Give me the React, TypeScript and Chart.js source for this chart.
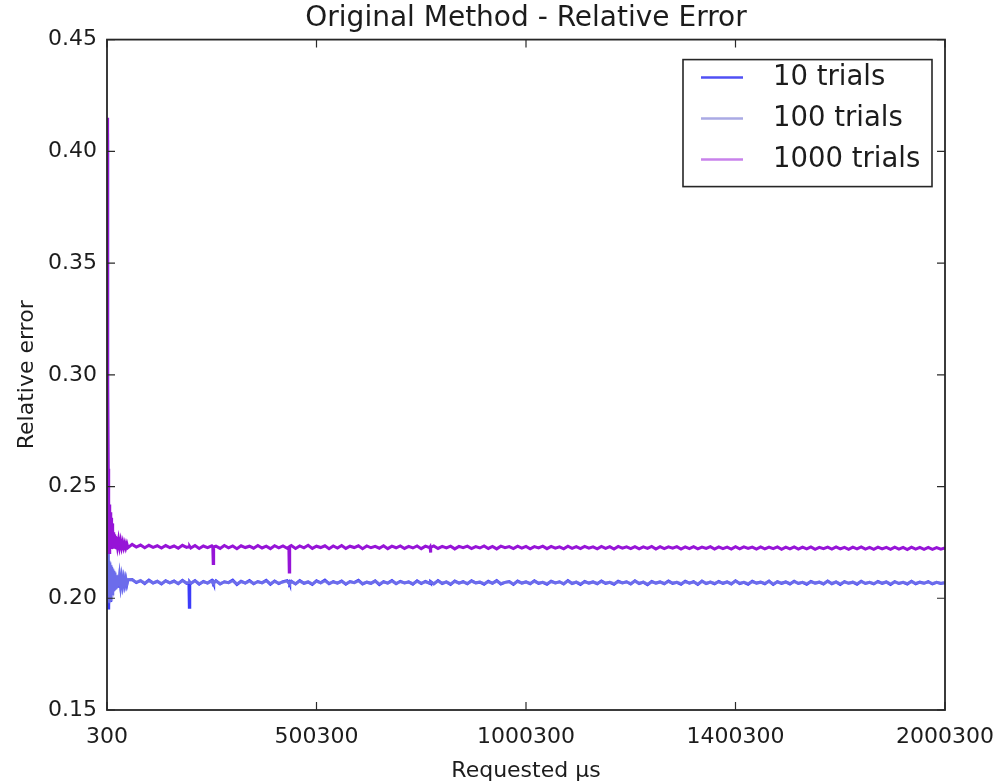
import React, { useEffect, useRef } from 'react';
import { Chart, registerables } from 'chart.js';

Chart.register(...registerables);

const CHART_TITLE = 'Original Method - Relative Error';
const X_TITLE = 'Requested μs';
const Y_TITLE = 'Relative error';
const SERIES_LABELS = ['10 trials', '100 trials', '1000 trials'];
const X_TICK_VALUES = [300, 500300, 1000300, 1500300, 2000300];
const X_TICK_LABELS = ['300', '500300', '1000300', '1400300', '2000300'];
const Y_TICKS = [0.15, 0.2, 0.25, 0.3, 0.35, 0.4, 0.45];

const SAMPLE_X = [
  300, 1300, 2300, 3300, 4300, 5300, 6300, 7300, 8300, 9300, 10300,
  11300, 12300, 13300, 14300, 15300, 16300, 17300, 18300, 19300, 20300,
  22800, 25300, 27800, 30300, 32800, 35300, 37800, 40300, 42800, 45300, 47800, 50300,
  60300, 70300, 80300, 90300, 100300, 110300, 120300, 130300, 140300, 150300,
  160300, 170300, 180300, 190300, 195800, 196800, 197800, 200300, 210300, 220300, 230300, 240300, 250300, 252800, 253800, 254800,
  260300, 270300, 280300, 290300, 300300, 310300, 320300, 330300, 340300, 350300,
  360300, 370300, 380300, 390300, 400300, 410300, 420300, 430300, 434300, 435300, 436300, 440300, 450300,
  460300, 470300, 480300, 490300, 500300, 510300, 520300, 530300, 540300, 550300,
  560300, 570300, 580300, 590300, 600300, 610300, 620300, 630300, 640300, 650300,
  660300, 670300, 680300, 690300, 700300, 710300, 720300, 730300, 740300, 750300,
  760300, 770300, 771300, 772300, 773300, 780300, 790300, 800300, 810300, 820300, 830300, 840300, 850300,
  860300, 870300, 880300, 890300, 900300, 910300, 920300, 930300, 940300, 950300,
  960300, 970300, 980300, 990300, 1000300, 1010300, 1020300, 1030300, 1040300, 1050300,
  1060300, 1070300, 1080300, 1090300, 1100300, 1110300, 1120300, 1130300, 1140300, 1150300,
  1160300, 1170300, 1180300, 1190300, 1200300, 1210300, 1220300, 1230300, 1240300, 1250300,
  1260300, 1270300, 1280300, 1290300, 1300300, 1310300, 1320300, 1330300, 1340300, 1350300,
  1360300, 1370300, 1380300, 1390300, 1400300, 1410300, 1420300, 1430300, 1440300, 1450300,
  1460300, 1470300, 1480300, 1490300, 1500300, 1510300, 1520300, 1530300, 1540300, 1550300,
  1560300, 1570300, 1580300, 1590300, 1600300, 1610300, 1620300, 1630300, 1640300, 1650300,
  1660300, 1670300, 1680300, 1690300, 1700300, 1710300, 1720300, 1730300, 1740300, 1750300,
  1760300, 1770300, 1780300, 1790300, 1800300, 1810300, 1820300, 1830300, 1840300, 1850300,
  1860300, 1870300, 1880300, 1890300, 1900300, 1910300, 1920300, 1930300, 1940300, 1950300,
  1960300, 1970300, 1980300, 1990300, 2000300,
];

const TRIALS_10 = [
  0.405, 0.318, 0.247, 0.2168, 0.1950, 0.2160, 0.2012, 0.2155, 0.1990, 0.2148, 0.2030,
  0.2140, 0.2020, 0.2130, 0.2035, 0.2122, 0.2040, 0.2115, 0.2038, 0.2110, 0.2045,
  0.2050, 0.2102, 0.2048, 0.2096, 0.2055, 0.2092, 0.2058, 0.2088, 0.2060, 0.2086, 0.2062, 0.2083,
  0.2084, 0.2070, 0.2079, 0.2066, 0.2081, 0.2068, 0.2076, 0.2064, 0.2078, 0.2069,
  0.2077, 0.2065, 0.2080, 0.2067, 0.2070, 0.1960, 0.2072, 0.2066, 0.2079, 0.2063, 0.2075, 0.2068, 0.2080, 0.2069, 0.2072, 0.2067,
  0.2078, 0.2064, 0.2074, 0.2070, 0.2081, 0.2062, 0.2076, 0.2068, 0.2079, 0.2065,
  0.2075, 0.2069, 0.2080, 0.2063, 0.2077, 0.2066, 0.2074, 0.2079, 0.2068, 0.2071, 0.2066, 0.2076, 0.2064,
  0.2079, 0.2067, 0.2073, 0.2062, 0.2078, 0.2069, 0.2081, 0.2065, 0.2074, 0.2068,
  0.2077, 0.2063, 0.2075, 0.2070, 0.2080, 0.2064, 0.2072, 0.2067, 0.2078, 0.2061,
  0.2074, 0.2068, 0.2079, 0.2065, 0.2076, 0.2069, 0.2073, 0.2063, 0.2078, 0.2066,
  0.2075, 0.2067, 0.2072, 0.2069, 0.2074, 0.2064, 0.2079, 0.2066, 0.2073, 0.2062, 0.2077, 0.2068, 0.2074,
  0.2065, 0.2078, 0.2069, 0.2072, 0.2063, 0.2076, 0.2067, 0.2079, 0.2064, 0.2071,
  0.2075, 0.2062, 0.2077, 0.2068, 0.2073, 0.2065, 0.2078, 0.2067, 0.2071, 0.2063,
  0.2076, 0.2069, 0.2074, 0.2064, 0.2079, 0.2066, 0.2072, 0.2062, 0.2075, 0.2068,
  0.2073, 0.2065, 0.2077, 0.2067, 0.2071, 0.2063, 0.2076, 0.2069, 0.2074, 0.2064,
  0.2078, 0.2066, 0.2072, 0.2061, 0.2075, 0.2068, 0.2073, 0.2065, 0.2077, 0.2067,
  0.2071, 0.2063, 0.2076, 0.2068, 0.2074, 0.2062, 0.2077, 0.2066, 0.2072, 0.2065,
  0.2075, 0.2067, 0.2073, 0.2064, 0.2078, 0.2066, 0.2071, 0.2063, 0.2076, 0.2068,
  0.2072, 0.2065, 0.2077, 0.2062, 0.2074, 0.2067, 0.2073, 0.2064, 0.2076, 0.2066,
  0.2071, 0.2063, 0.2075, 0.2068, 0.2072, 0.2064, 0.2077, 0.2065, 0.2073, 0.2062,
  0.2074, 0.2067, 0.2072, 0.2063, 0.2076, 0.2066, 0.2071, 0.2064, 0.2075, 0.2067,
  0.2073, 0.2062, 0.2074, 0.2066, 0.2071, 0.2064, 0.2076, 0.2065, 0.2072, 0.2067,
  0.2074, 0.2064, 0.2071, 0.2066, 0.2070,
];

const TRIALS_100 = [
  0.408, 0.305, 0.240, 0.2170, 0.1985, 0.2165, 0.1978, 0.2158, 0.2002, 0.2150, 0.1995,
  0.2142, 0.2015, 0.2135, 0.2022, 0.2128, 0.2030, 0.2120, 0.2036, 0.2114, 0.2042,
  0.2045, 0.2106, 0.2052, 0.2100, 0.2056, 0.2095, 0.2060, 0.2091, 0.2063, 0.2088, 0.2065, 0.2085,
  0.2083, 0.2072, 0.2080, 0.2068, 0.2078, 0.2070, 0.2076, 0.2067, 0.2077, 0.2070,
  0.2075, 0.2067, 0.2078, 0.2069, 0.2071, 0.2070, 0.2072, 0.2068, 0.2077, 0.2066, 0.2074, 0.2069, 0.2076, 0.2070, 0.2072, 0.2069,
  0.2076, 0.2066, 0.2073, 0.2070, 0.2077, 0.2065, 0.2075, 0.2069, 0.2076, 0.2067,
  0.2074, 0.2070, 0.2077, 0.2066, 0.2075, 0.2068, 0.2073, 0.2076, 0.2069, 0.2071, 0.2068, 0.2074, 0.2066,
  0.2076, 0.2068, 0.2073, 0.2065, 0.2076, 0.2069, 0.2077, 0.2067, 0.2073, 0.2069,
  0.2075, 0.2066, 0.2074, 0.2070, 0.2077, 0.2066, 0.2072, 0.2068, 0.2076, 0.2065,
  0.2073, 0.2069, 0.2076, 0.2067, 0.2074, 0.2070, 0.2072, 0.2066, 0.2075, 0.2068,
  0.2074, 0.2068, 0.2071, 0.2070, 0.2072, 0.2066, 0.2076, 0.2068, 0.2072, 0.2065, 0.2075, 0.2069, 0.2073,
  0.2067, 0.2076, 0.2070, 0.2072, 0.2066, 0.2074, 0.2068, 0.2076, 0.2066, 0.2071,
  0.2074, 0.2065, 0.2075, 0.2069, 0.2072, 0.2067, 0.2076, 0.2068, 0.2071, 0.2066,
  0.2075, 0.2069, 0.2073, 0.2066, 0.2076, 0.2067, 0.2072, 0.2065, 0.2074, 0.2069,
  0.2072, 0.2067, 0.2075, 0.2068, 0.2071, 0.2066, 0.2074, 0.2070, 0.2073, 0.2066,
  0.2076, 0.2067, 0.2072, 0.2064, 0.2074, 0.2069, 0.2072, 0.2067, 0.2075, 0.2068,
  0.2071, 0.2066, 0.2074, 0.2069, 0.2073, 0.2065, 0.2075, 0.2067, 0.2072, 0.2067,
  0.2074, 0.2068, 0.2072, 0.2066, 0.2076, 0.2067, 0.2071, 0.2066, 0.2074, 0.2069,
  0.2071, 0.2067, 0.2075, 0.2065, 0.2073, 0.2068, 0.2072, 0.2066, 0.2074, 0.2067,
  0.2071, 0.2066, 0.2074, 0.2069, 0.2072, 0.2066, 0.2075, 0.2067, 0.2072, 0.2065,
  0.2073, 0.2068, 0.2071, 0.2066, 0.2074, 0.2067, 0.2071, 0.2066, 0.2074, 0.2068,
  0.2072, 0.2065, 0.2073, 0.2067, 0.2071, 0.2066, 0.2074, 0.2067, 0.2071, 0.2068,
  0.2073, 0.2066, 0.2071, 0.2067, 0.2070,
];

const TRIALS_1000 = [
  0.415, 0.350, 0.296, 0.258, 0.2440, 0.2205, 0.2420, 0.2215, 0.2385, 0.2225, 0.2360,
  0.2220, 0.2335, 0.2230, 0.2310, 0.2228, 0.2295, 0.2232, 0.2285, 0.2230, 0.2275,
  0.2268, 0.2232, 0.2262, 0.2230, 0.2256, 0.2228, 0.2250, 0.2227, 0.2246, 0.2226, 0.2243, 0.2226,
  0.2241, 0.2229, 0.2238, 0.2226, 0.2237, 0.2228, 0.2235, 0.2225, 0.2236, 0.2227,
  0.2234, 0.2224, 0.2237, 0.2228, 0.2231, 0.2229, 0.2232, 0.2225, 0.2236, 0.2223, 0.2234, 0.2227, 0.2235, 0.2229, 0.2156, 0.2230,
  0.2233, 0.2223, 0.2236, 0.2226, 0.2234, 0.2222, 0.2235, 0.2227, 0.2233, 0.2224,
  0.2236, 0.2225, 0.2233, 0.2222, 0.2235, 0.2226, 0.2234, 0.2224, 0.2229, 0.2117, 0.2230, 0.2236, 0.2223,
  0.2234, 0.2226, 0.2237, 0.2223, 0.2233, 0.2227, 0.2235, 0.2222, 0.2234, 0.2225,
  0.2236, 0.2223, 0.2233, 0.2227, 0.2235, 0.2222, 0.2234, 0.2226, 0.2232, 0.2224,
  0.2235, 0.2222, 0.2233, 0.2226, 0.2234, 0.2223, 0.2232, 0.2225, 0.2234, 0.2222,
  0.2233, 0.2226, 0.2229, 0.2205, 0.2228, 0.2234, 0.2223, 0.2232, 0.2225, 0.2233, 0.2221, 0.2232, 0.2226,
  0.2233, 0.2222, 0.2231, 0.2225, 0.2234, 0.2223, 0.2232, 0.2221, 0.2233, 0.2226,
  0.2231, 0.2222, 0.2233, 0.2224, 0.2232, 0.2221, 0.2231, 0.2225, 0.2233, 0.2222,
  0.2232, 0.2224, 0.2230, 0.2221, 0.2233, 0.2223, 0.2231, 0.2222, 0.2232, 0.2224,
  0.2230, 0.2221, 0.2232, 0.2223, 0.2231, 0.2220, 0.2232, 0.2224, 0.2230, 0.2222,
  0.2231, 0.2221, 0.2230, 0.2223, 0.2232, 0.2220, 0.2231, 0.2222, 0.2230, 0.2224,
  0.2231, 0.2220, 0.2230, 0.2222, 0.2231, 0.2221, 0.2229, 0.2223, 0.2231, 0.2220,
  0.2230, 0.2222, 0.2229, 0.2220, 0.2231, 0.2221, 0.2230, 0.2223, 0.2229, 0.2220,
  0.2230, 0.2221, 0.2229, 0.2222, 0.2230, 0.2219, 0.2229, 0.2221, 0.2230, 0.2220,
  0.2229, 0.2221, 0.2230, 0.2219, 0.2228, 0.2222, 0.2229, 0.2220, 0.2230, 0.2221,
  0.2228, 0.2219, 0.2229, 0.2221, 0.2230, 0.2220, 0.2228, 0.2219, 0.2229, 0.2221,
  0.2228, 0.2219, 0.2229, 0.2220, 0.2228, 0.2218, 0.2229, 0.2220, 0.2228, 0.2219,
  0.2228, 0.2219, 0.2227, 0.2220, 0.2225,
];

const SERIES_VALUES = [TRIALS_10, TRIALS_100, TRIALS_1000];
const SERIES_COLORS = ['rgb(60,60,250)', 'rgba(140,140,225,0.6)', 'rgb(150,20,215)'];
const LEGEND_COLORS = ['rgb(80,80,245)', 'rgb(170,170,228)', 'rgb(200,130,235)'];
const FONT_FAMILY = '"DejaVu Sans", sans-serif';
const TEXT_COLOR = '#1c1c1c';

const frameLegendPlugin = {
  id: 'frameLegend',
  afterDatasetsDraw(chart: any) {
    const { ctx, chartArea: a, scales } = chart;
    ctx.save();
    const tl = 8;
    ctx.strokeStyle = '#2a2a2a';
    ctx.lineWidth = 1.2;
    ctx.beginPath();
    scales.y.ticks.forEach((t: any) => {
      const py = scales.y.getPixelForValue(t.value);
      ctx.moveTo(a.left, py);
      ctx.lineTo(a.left + tl, py);
      ctx.moveTo(a.right, py);
      ctx.lineTo(a.right - tl, py);
    });
    scales.x.ticks.forEach((t: any) => {
      const px = scales.x.getPixelForValue(t.value);
      ctx.moveTo(px, a.bottom);
      ctx.lineTo(px, a.bottom - tl);
      ctx.moveTo(px, a.top);
      ctx.lineTo(px, a.top + tl);
    });
    ctx.stroke();
    ctx.strokeStyle = '#262626';
    ctx.lineWidth = 1.8;
    ctx.strokeRect(a.left, a.top, a.right - a.left, a.bottom - a.top);
    const lw = 249;
    const lh = 127;
    const lx = a.right - 13 - lw;
    const ly = a.top + 20;
    ctx.fillStyle = '#ffffff';
    ctx.fillRect(lx, ly, lw, lh);
    ctx.strokeStyle = '#262626';
    ctx.lineWidth = 1.6;
    ctx.strokeRect(lx, ly, lw, lh);
    ctx.font = `27.5px ${FONT_FAMILY}`;
    ctx.textBaseline = 'middle';
    ctx.textAlign = 'left';
    chart.data.datasets.forEach((ds: any, i: number) => {
      const cy = ly + 18 + i * 41;
      ctx.strokeStyle = LEGEND_COLORS[i];
      ctx.lineWidth = 2.5;
      ctx.beginPath();
      ctx.moveTo(lx + 18, cy);
      ctx.lineTo(lx + 60, cy);
      ctx.stroke();
      ctx.fillStyle = TEXT_COLOR;
      ctx.fillText(ds.label, lx + 90, cy);
    });
    ctx.restore();
  },
};

export default function App() {
  const canvasRef = useRef<HTMLCanvasElement | null>(null);

  useEffect(() => {
    const canvas = canvasRef.current;
    if (!canvas) return;
    Chart.defaults.font.family = FONT_FAMILY;
    const datasets = SERIES_VALUES.map((vals, i) => ({
      label: SERIES_LABELS[i],
      data: SAMPLE_X.map((x, j) => ({ x, y: vals[j] })),
      borderColor: SERIES_COLORS[i],
      backgroundColor: SERIES_COLORS[i],
      borderWidth: 3,
      pointRadius: 0,
      tension: 0,
      fill: false,
      order: 2 - i,
    }));
    const chart = new Chart(canvas, {
      type: 'line',
      data: { datasets },
      plugins: [frameLegendPlugin],
      options: {
        animation: false,
        responsive: false,
        maintainAspectRatio: false,
        layout: { padding: { left: 0, right: 56, top: 0, bottom: 0 } },
        plugins: {
          legend: { display: false },
          tooltip: { enabled: false },
          title: {
            display: true,
            fullSize: false,
            text: CHART_TITLE,
            color: TEXT_COLOR,
            font: { size: 28, weight: 'normal', family: FONT_FAMILY },
            padding: { top: 2, bottom: 4 },
          },
        },
        scales: {
          x: {
            type: 'linear',
            min: 300,
            max: 2000300,
            afterBuildTicks: (scale: any) => {
              scale.ticks = X_TICK_VALUES.map((v) => ({ value: v }));
            },
            afterFit: (scale: any) => {
              scale.height = 74;
              scale.paddingLeft = 0;
              scale.paddingRight = 0;
            },
            grid: { display: false, drawTicks: false },
            border: { display: false },
            ticks: {
              autoSkip: false,
              maxRotation: 0,
              padding: 14,
              color: TEXT_COLOR,
              font: { size: 22 },
              callback: (_v: any, idx: number) => X_TICK_LABELS[idx],
            },
            title: {
              display: true,
              text: X_TITLE,
              color: TEXT_COLOR,
              font: { size: 22 },
              padding: { top: 0, bottom: 0 },
            },
          },
          y: {
            type: 'linear',
            min: 0.15,
            max: 0.45,
            afterBuildTicks: (scale: any) => {
              scale.ticks = Y_TICKS.map((v) => ({ value: v }));
            },
            afterFit: (scale: any) => {
              scale.width = 107;
            },
            grid: { display: false, drawTicks: false },
            border: { display: false },
            ticks: {
              padding: 10,
              color: TEXT_COLOR,
              font: { size: 22 },
              callback: (v: any) => Number(v).toFixed(2),
            },
            title: {
              display: true,
              text: Y_TITLE,
              color: TEXT_COLOR,
              font: { size: 22 },
              padding: { top: 14, bottom: 0 },
            },
          },
        },
      },
    });
    return () => chart.destroy();
  }, []);

  return (
    <div style={{ position: 'fixed', left: 0, top: 0, width: 1001, height: 784, background: '#fff' }}>
      <canvas ref={canvasRef} width={1001} height={784} style={{ display: 'block' }} />
    </div>
  );
}
